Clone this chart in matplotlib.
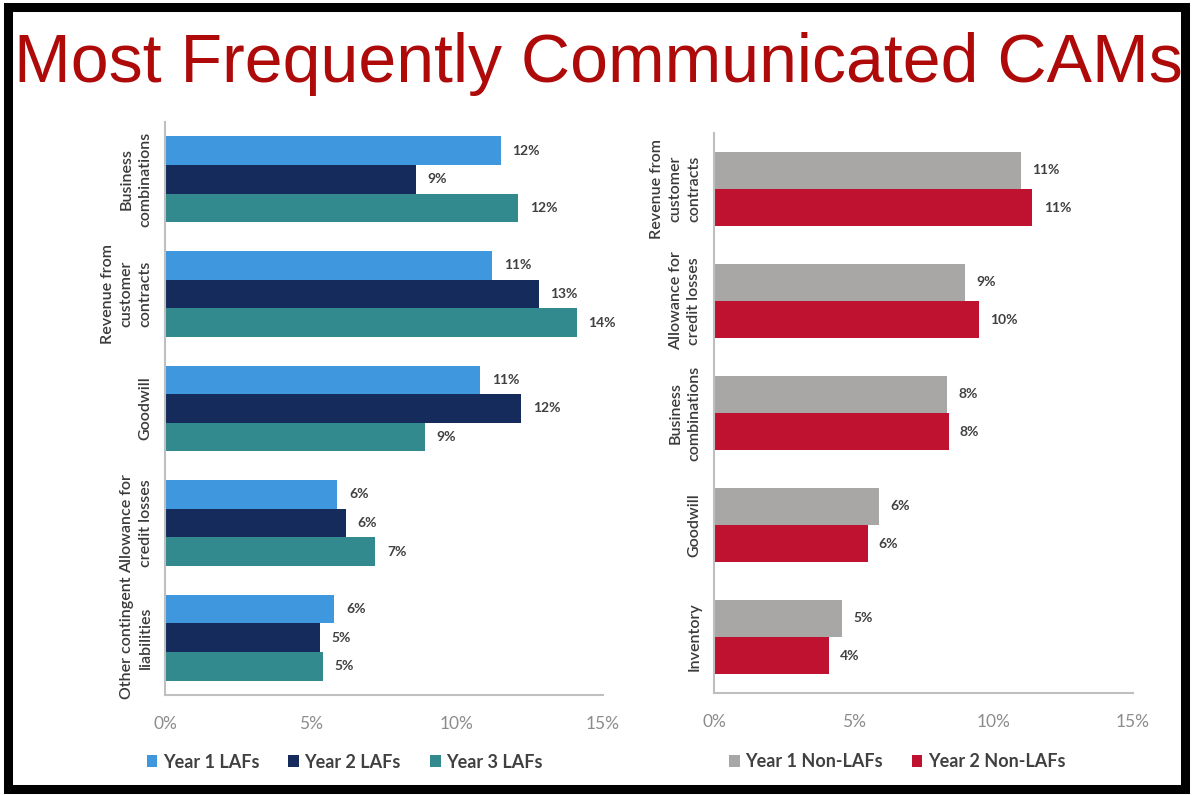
import matplotlib
matplotlib.use("Agg")
import matplotlib.pyplot as plt
from matplotlib.patches import Rectangle, Patch
import numpy as np

plt.rcParams['font.family'] = ['Lato', 'DejaVu Sans']

# left chart: LAFs
laf_cats = ['Business\ncombinations', 'Revenue from\ncustomer\ncontracts', 'Goodwill',
            'Allowance for\ncredit losses', 'Other contingent\nliabilities']
laf_y1 = [11.5, 11.2, 10.8, 5.9, 5.8]
laf_y2 = [8.6, 12.8, 12.2, 6.2, 5.3]
laf_y3 = [12.1, 14.1, 8.9, 7.2, 5.4]
laf_names = ['Year 1 LAFs', 'Year 2 LAFs', 'Year 3 LAFs']
laf_colors = ['#3F97DE', '#142B5C', '#328A8E']

# right chart: non-LAFs
non_cats = ['Revenue from\ncustomer\ncontracts', 'Allowance for\ncredit losses',
            'Business\ncombinations', 'Goodwill', 'Inventory']
non_y1 = [11.0, 9.0, 8.35, 5.9, 4.6]
non_y2 = [11.4, 9.5, 8.4, 5.5, 4.1]
non_names = ['Year 1 Non-LAFs', 'Year 2 Non-LAFs']
non_colors = ['#A9A6A6', '#BE1230']

xticks = [0, 5, 10, 15]
xlabels = ['0%', '5%', '10%', '15%']

fig = plt.figure(figsize=(11.93, 7.95), dpi=100)
fig.patch.set_facecolor('white')

# black frame
fig.patches.append(Rectangle((8 / 1193, 1 - 789 / 795), 1177 / 1193, 782 / 795,
                             transform=fig.transFigure, fill=False,
                             edgecolor='black', linewidth=6.5, zorder=10))

title = fig.text(14 / 1193, 1 - 82 / 795, 'Most Frequently Communicated CAMs',
                 family='Liberation Sans', color='#AF0A0A', fontsize=52,
                 ha='left', va='baseline')


def draw_panel(ax, cats, series, names, colors, h, legend_x, legend_y):
    y = np.arange(len(cats))
    n = len(series)
    for k, (vals, name, col) in enumerate(zip(series, names, colors)):
        off = (k - (n - 1) / 2) * h
        bars = ax.barh(y + off, vals, height=h, color=col, label=name)
        for b, v in zip(bars, vals):
            ax.text(v + 0.4, b.get_y() + h / 2, f'{round(v):.0f}%', va='center',
                    ha='left', fontsize=10, fontweight='bold', color='#404040')
    ax.set_xlim(0, 15)
    ax.set_ylim(len(cats) - 0.5, -0.5)
    ax.set_xticks(xticks)
    ax.set_xticklabels(xlabels, fontsize=12.5, color='#8C8C8C')
    ax.set_yticks(y)
    ax.set_yticklabels(cats, rotation=90, va='center', ha='right',
                       multialignment='center', fontsize=11.5, color='#3A3A3A',
                       fontweight='semibold', linespacing=1.45)
    ax.tick_params(axis='both', length=0)
    ax.tick_params(axis='x', pad=15)
    ax.tick_params(axis='y', pad=9)
    for s in ['top', 'right']:
        ax.spines[s].set_visible(False)
    for s in ['left', 'bottom']:
        ax.spines[s].set_color('#BFBFBF')
        ax.spines[s].set_linewidth(1.5)
    handles = [Patch(facecolor=c, label=nm) for c, nm in zip(colors, names)]
    ax.legend(handles=handles, loc='center', bbox_to_anchor=(legend_x, legend_y),
              ncol=n, frameon=False, handlelength=0.6, handleheight=0.6,
              handletextpad=0.3, columnspacing=1.6,
              prop={'size': 13, 'weight': 'bold'}, labelcolor='#404040')


ax1 = fig.add_axes([165 / 1193, 1 - 695 / 795, 438 / 1193, 573 / 795])
draw_panel(ax1, laf_cats, [laf_y1, laf_y2, laf_y3], laf_names, laf_colors,
           0.25, 0.41, -0.117)

ax2 = fig.add_axes([714 / 1193, 1 - 693 / 795, 419 / 1193, 560 / 795])
draw_panel(ax2, non_cats, [non_y1, non_y2], non_names, non_colors,
           1 / 3, 0.437, -0.123)

# fit title width to the frame
fig.canvas.draw()
r = fig.canvas.get_renderer()
w = title.get_window_extent(r).width
title.set_fontsize(52 * 1168 / w)

fig.savefig('out.png', dpi=100)
